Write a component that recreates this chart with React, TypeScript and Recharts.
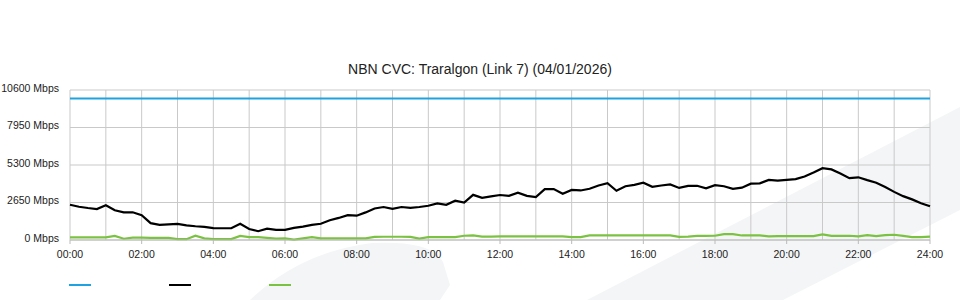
import React from 'react';
import { LineChart, Line, XAxis, YAxis, CartesianGrid, ReferenceLine } from 'recharts';

// 15 minute samples, 00:00 .. 24:00
const traffic = [
  2490, 2350, 2260, 2190,
  2460, 2100, 1950, 1960,
  1750, 1190, 1070, 1100,
  1140, 1030, 970, 930,
  840, 830, 830, 1150,
  780, 620, 800, 720,
  720, 860, 950, 1070,
  1150, 1400, 1560, 1760,
  1720, 1950, 2230, 2330,
  2200, 2330, 2270, 2330,
  2420, 2580, 2490, 2780,
  2650, 3190, 2980, 3080,
  3180, 3120, 3350, 3120,
  3030, 3590, 3600, 3270,
  3540, 3500, 3620, 3850,
  4020, 3480, 3800, 3900,
  4050, 3760, 3850, 3930,
  3680, 3820, 3830, 3650,
  3880, 3800, 3620, 3700,
  3980, 4000, 4250, 4200,
  4250, 4300, 4490, 4770,
  5070, 4990, 4700, 4370,
  4430, 4230, 4050, 3750,
  3400, 3100, 2870, 2600,
  2380,
];

const upload = [
  180, 180, 180, 180, 190, 290, 90, 170,
  170, 150, 150, 150, 60, 60, 310, 120,
  60, 60, 60, 290, 210, 200, 150, 100,
  110, 30, 110, 200, 110, 110, 110, 110,
  110, 110, 220, 230, 230, 230, 220, 100,
  200, 200, 200, 200, 300, 320, 240, 240,
  250, 250, 250, 250, 250, 250, 250, 250,
  205, 210, 320, 320, 320, 320, 320, 320,
  320, 320, 320, 320, 220, 240, 290, 290,
  300, 410, 410, 320, 320, 320, 260, 270,
  270, 270, 270, 270, 390, 290, 290, 300,
  250, 340, 280, 350, 370, 290, 200, 210,
  240,
];

const capacity = 10000;

const yTicks = [0, 2650, 5300, 7950, 10600];
const xTicks = [0, 2, 4, 6, 8, 10, 12, 14, 16, 18, 20, 22, 24];
const gridHours = [1, 3, 5, 7, 9, 11, 13, 15, 17, 19, 21, 23];

const legendColors = ['#1fa3e0', '#000000', '#7cc242'];

const data = traffic.map((v, i) => ({ t: (i * 15) / 60, traffic: v, upload: upload[i] }));

const font = '"Liberation Sans", Arial, sans-serif';
const tickStyle = { fill: '#222', fontSize: 10.5, fontFamily: font };
const gridColor = '#c9c9c9';

const fmtHour = (h: number) => `${String(h).padStart(2, '0')}:00`;

const YTick = (props: any) => {
  const { x, y, payload } = props;
  return (
    <text x={x} y={y} dy={1.5} textAnchor="end" fill="#222" fontSize={10.5} fontFamily={font}>
      {`${payload.value} Mbps`}
    </text>
  );
};

export default function App() {
  return (
    <div style={{ position: 'absolute', left: 0, top: 0, width: 960, height: 300, background: '#fff', fontFamily: font }}>
      {/* background swoosh */}
      <svg width={960} height={300} style={{ position: 'absolute', left: 0, top: 0 }}>
        <path d="M250,300 Q300,252 372,243 Q432,240 443,262 L450,285 L440,300 Z" fill="#f4f5f7" />
        <path d="M587,300 L960,107 L960,210 L783,300 Z" fill="#f4f5f7" />
      </svg>
      <div style={{ position: 'absolute', left: 0, top: 61, width: 960, textAlign: 'center', fontSize: 14, color: '#222' }}>
        NBN CVC: Traralgon (Link 7) (04/01/2026)
      </div>
      <div style={{ position: 'absolute', left: 0, top: 0, width: 960, height: 300 }}>
        <LineChart width={960} height={300} data={data} margin={{ top: 90, right: 30, left: 0, bottom: 30 }}>
          <CartesianGrid stroke={gridColor} />
          <XAxis
            dataKey="t"
            type="number"
            domain={[0, 24]}
            ticks={xTicks}
            tickFormatter={fmtHour}
            tick={tickStyle}
            stroke="#bbb"
            tickSize={4}
            tickMargin={7}
            interval={0}
            height={30}
          />
          <YAxis
            type="number"
            domain={[0, 10600]}
            ticks={yTicks}
            tick={<YTick />}
            width={70}
            axisLine={false}
            tickLine={false}
            tickSize={0}
            tickMargin={11}
            interval={0}
          />
          {gridHours.map((h) => (
            <ReferenceLine key={h} x={h} stroke={gridColor} />
          ))}
          <ReferenceLine y={capacity} stroke={legendColors[0]} strokeWidth={2} />
          <Line dataKey="traffic" name="Download" stroke={legendColors[1]} strokeWidth={2.2} dot={false} isAnimationActive={false} />
          <Line dataKey="upload" name="Upload" stroke={legendColors[2]} strokeWidth={2.2} dot={false} isAnimationActive={false} />
        </LineChart>
      </div>
      <svg width={960} height={12} style={{ position: 'absolute', left: 0, top: 278 }}>
        {legendColors.map((c, i) => (
          <line key={c} x1={69 + i * 100} x2={91 + i * 100} y1={7} y2={7} stroke={c} strokeWidth={2} />
        ))}
      </svg>
    </div>
  );
}
